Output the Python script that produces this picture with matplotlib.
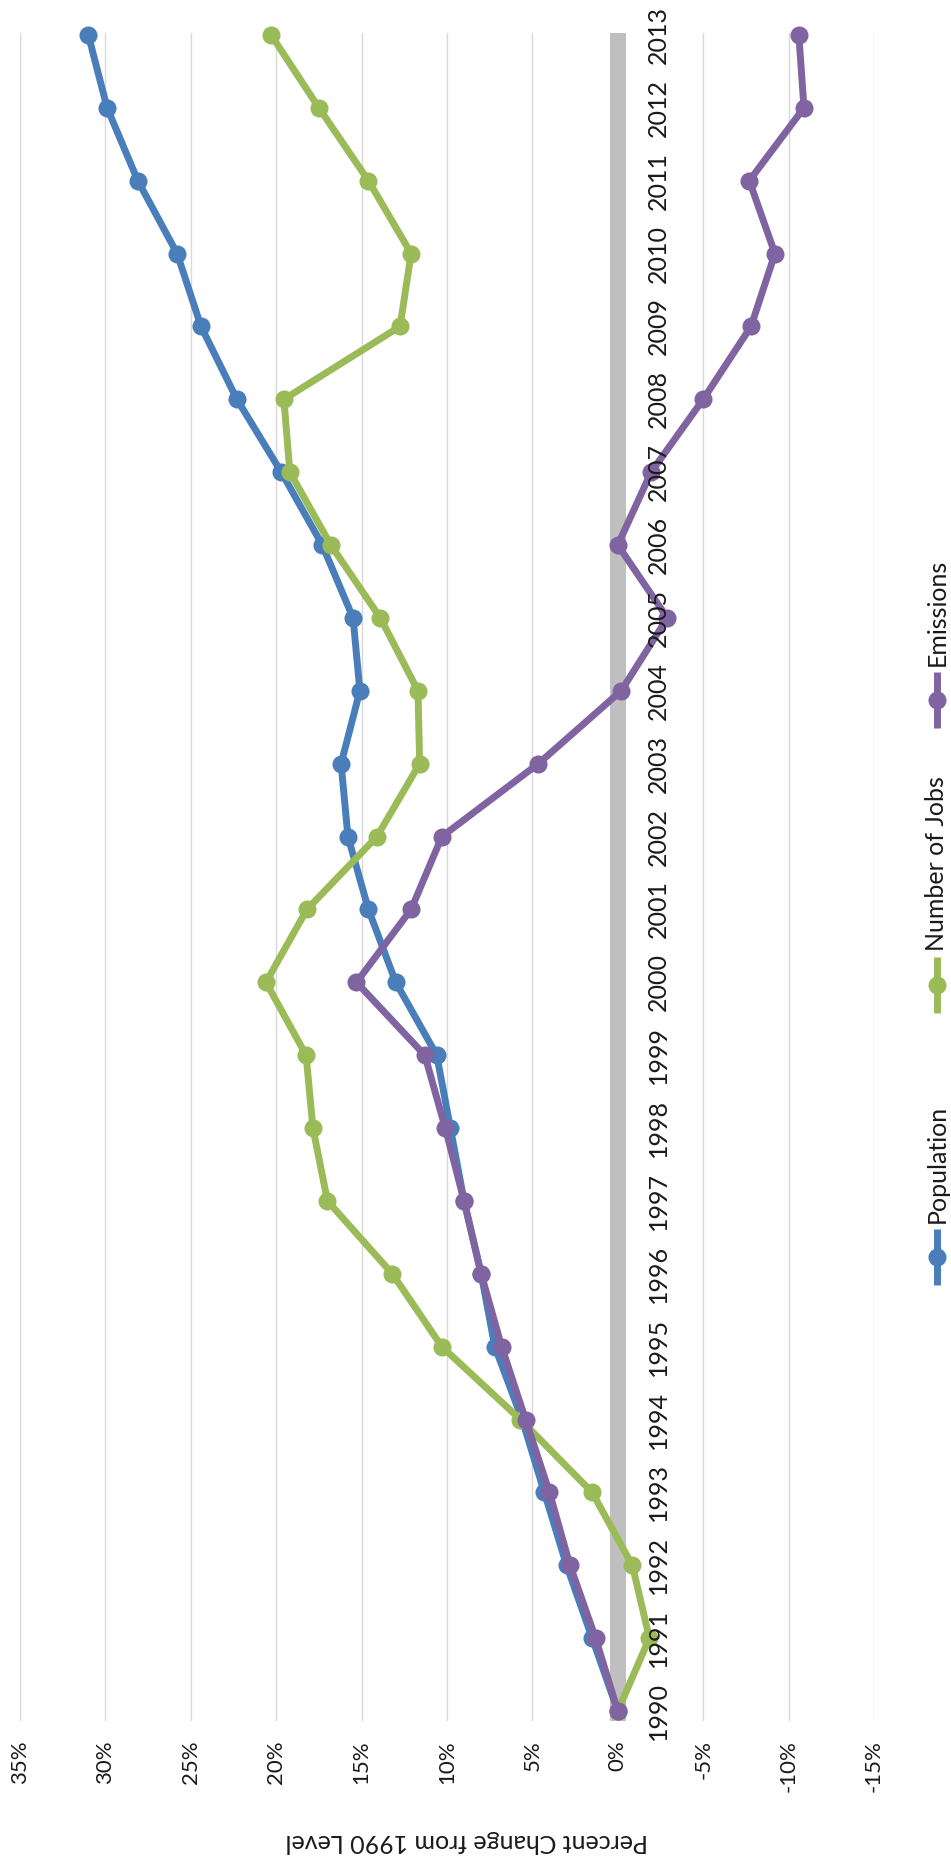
import matplotlib
matplotlib.use("Agg")
import matplotlib.pyplot as plt

plt.rcParams['font.family'] = ['Lato', 'DejaVu Sans']

years = list(range(1990, 2014))
population = [0.0, 1.5, 3.0, 4.3, 5.6, 7.2, 8.0, 9.0, 9.8, 10.6, 13.0, 14.6,
              15.8, 16.2, 15.1, 15.5, 17.3, 19.7, 22.3, 24.4, 25.8, 28.1, 29.9, 31.0]
jobs = [0.0, -1.85, -0.85, 1.5, 5.7, 10.3, 13.2, 17.0, 17.85, 18.25, 20.6, 18.2,
        14.1, 11.6, 11.7, 13.9, 16.8, 19.2, 19.55, 12.75, 12.1, 14.6, 17.5, 20.3]
emissions = [0.0, 1.3, 2.8, 4.0, 5.4, 6.8, 8.0, 9.0, 10.1, 11.3, 15.3, 12.1,
             10.3, 4.65, -0.2, -2.9, 0.0, -1.95, -5.0, -7.8, -9.2, -7.7, -10.9, -10.6]
series_names = ["Population", "Number of Jobs", "Emissions"]
series_colors = ["#4A7EBB", "#9BBB59", "#8064A2"]
pct_ticks = [35, 30, 25, 20, 15, 10, 5, 0, -5, -10, -15]

W, H = 951, 1860
fig = plt.figure(figsize=(W / 100, H / 100), dpi=100)
fig.patch.set_facecolor("white")

# plot area (chart is turned a quarter turn: values run right-to-left, years upward)
left_px, right_px, top_px, bot_px = 20, 874, 33.5, 1720.5
ax = fig.add_axes([left_px / W, 1 - bot_px / H, (right_px - left_px) / W, (bot_px - top_px) / H])
ax.set_xlim(35, -15)
ax.set_ylim(1989.87, 2013.02)
for sp in ax.spines.values():
    sp.set_visible(False)
ax.set_yticks([])
ax.set_xticks(pct_ticks)
ax.set_xticklabels([f"{p}%" for p in pct_ticks], rotation=90, fontsize=16, color="#1a1a1a")
ax.tick_params(axis="x", length=0, pad=14)
ax.grid(axis="x", color="#D9D9D9", linewidth=1.0)
ax.set_axisbelow(True)
ax.axvline(0, color="#BFBFBF", linewidth=11.5, zorder=1.5)

for vals, col in zip([population, jobs, emissions], series_colors):
    ax.plot(vals, years, color=col, linewidth=5, marker="o", markersize=13,
            markeredgewidth=0, solid_capstyle="round", clip_on=False, zorder=3)

for yr in years:
    ax.annotate(str(yr), xy=(0, yr), xytext=(21, 0), textcoords="offset points",
                rotation=90, ha="left", va="center", fontsize=18, color="#1a1a1a")

# overlay in pixel coordinates for the title and legend
lax = fig.add_axes([0, 0, 1, 1])
lax.set_xlim(0, W)
lax.set_ylim(H, 0)
lax.axis("off")

lax.text(467, 1841, "Percent Change from 1990 Level", rotation=180,
         ha="center", va="center", fontsize=18, color="#1a1a1a")

legend_marker_y = [1257, 985, 700]
lx = 937
for name, col, my in zip(series_names, series_colors, legend_marker_y):
    lax.plot([lx, lx], [my + 28, my - 28], color=col, linewidth=5, solid_capstyle="butt")
    lax.plot([lx], [my], color=col, marker="o", markersize=13, markeredgewidth=0)
    lax.text(lx, my - 34, name, rotation=90, ha="center", va="bottom",
             fontsize=18, color="#1a1a1a")

fig.savefig("out.png", dpi=100, facecolor="white")
